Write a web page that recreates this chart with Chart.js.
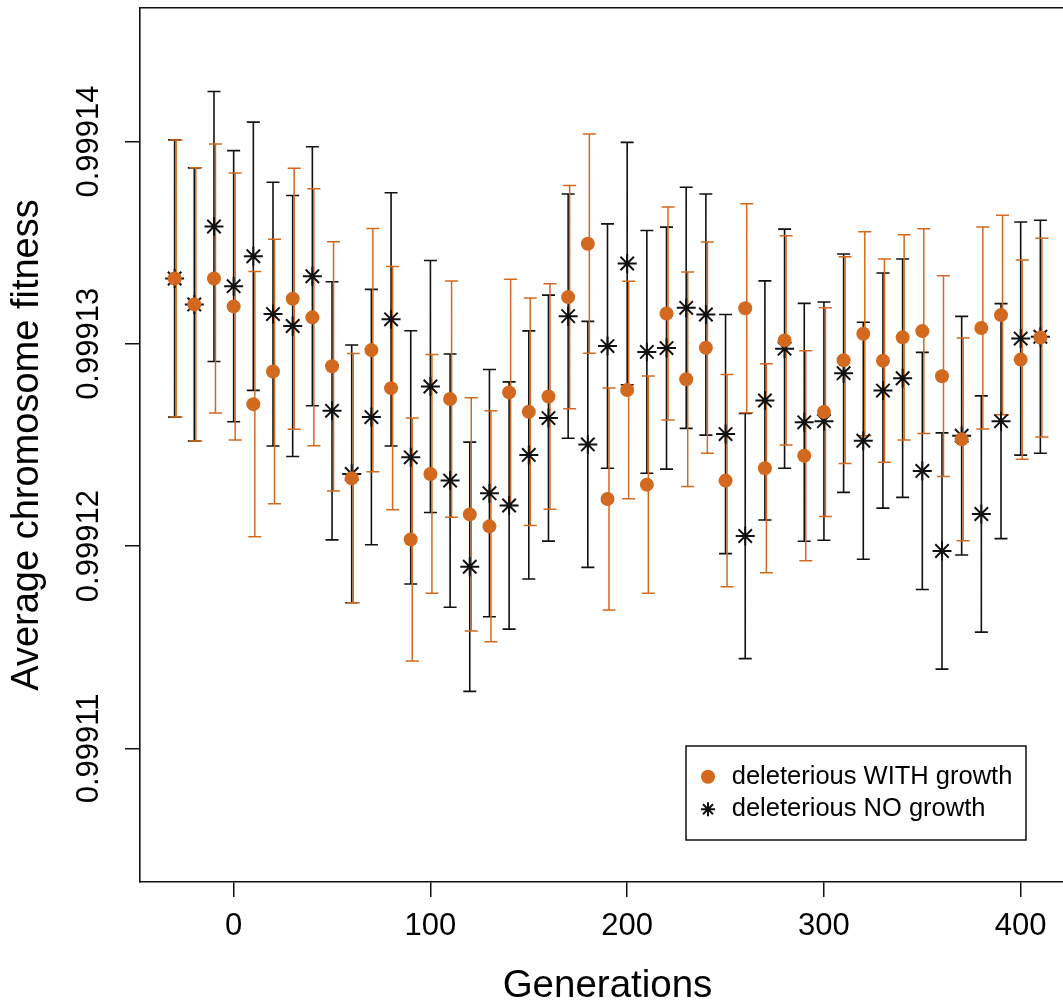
<!DOCTYPE html>
<html>
<head>
<meta charset="utf-8">
<title>Average chromosome fitness by generation</title>
<script src="https://cdn.jsdelivr.net/npm/chart.js@4.4.1/dist/chart.umd.min.js"></script>
<style>
  html, body { margin: 0; padding: 0; background: #fff; overflow: hidden; }
  #frame { width: 1063px; height: 1005px; overflow: hidden; }
  canvas { display: block; }
</style>
</head>
<body>
<div id="frame"><canvas id="chart" width="1075" height="1005"></canvas></div>
<script>
// Sampling generations
const generations = [-30, -20, -10, 0, 10, 20, 30, 40, 50, 60, 70, 80, 90, 100, 110, 120, 130, 140, 150, 160,
  170, 180, 190, 200, 210, 220, 230, 240, 250, 260, 270, 280, 290, 300, 310, 320, 330, 340, 350, 360,
  370, 380, 390, 400, 410];

// deleterious WITH growth: mean fitness and error half-width
const withGrowthMean = [0.99913323, 0.99913195, 0.99913323, 0.99913185, 0.99912702, 0.99912863, 0.99913223, 0.99913131, 0.99912889, 0.99912336,
  0.99912969, 0.99912781, 0.99912033, 0.99912357, 0.99912727, 0.99912157, 0.99912098, 0.99912760, 0.99912664, 0.99912740,
  0.99913231, 0.99913495, 0.99912233, 0.99912772, 0.99912304, 0.99913150, 0.99912825, 0.99912981, 0.99912324, 0.99913176,
  0.99912385, 0.99913017, 0.99912447, 0.99912663, 0.99912919, 0.99913050, 0.99912917, 0.99913032, 0.99913063, 0.99912840,
  0.99912528, 0.99913078, 0.99913142, 0.99912922, 0.99913031];
const withGrowthErr = [0.685e-5, 0.675e-5, 0.665e-5, 0.660e-5, 0.655e-5, 0.654e-5, 0.645e-5, 0.635e-5, 0.616e-5, 0.616e-5,
  0.601e-5, 0.601e-5, 0.601e-5, 0.590e-5, 0.584e-5, 0.576e-5, 0.571e-5, 0.559e-5, 0.562e-5, 0.557e-5,
  0.552e-5, 0.542e-5, 0.549e-5, 0.538e-5, 0.537e-5, 0.527e-5, 0.530e-5, 0.522e-5, 0.525e-5, 0.517e-5,
  0.517e-5, 0.517e-5, 0.519e-5, 0.516e-5, 0.511e-5, 0.504e-5, 0.502e-5, 0.507e-5, 0.506e-5, 0.496e-5,
  0.501e-5, 0.499e-5, 0.493e-5, 0.493e-5, 0.491e-5];

// deleterious NO growth: mean fitness and error half-width
const noGrowthMean = [0.99913323, 0.99913195, 0.99913580, 0.99913285, 0.99913433, 0.99913147, 0.99913088, 0.99913334, 0.99912669, 0.99912357,
  0.99912638, 0.99913121, 0.99912439, 0.99912789, 0.99912324, 0.99911898, 0.99912262, 0.99912201, 0.99912451, 0.99912633,
  0.99913137, 0.99912503, 0.99912989, 0.99913397, 0.99912960, 0.99912979, 0.99913178, 0.99913145, 0.99912554, 0.99912050,
  0.99912720, 0.99912976, 0.99912612, 0.99912618, 0.99912855, 0.99912521, 0.99912769, 0.99912830, 0.99912372, 0.99911976,
  0.99912546, 0.99912159, 0.99912618, 0.99913026, 0.99913035];
const noGrowthErr = [0.685e-5, 0.675e-5, 0.667e-5, 0.670e-5, 0.663e-5, 0.652e-5, 0.645e-5, 0.640e-5, 0.638e-5, 0.637e-5,
  0.631e-5, 0.626e-5, 0.626e-5, 0.623e-5, 0.626e-5, 0.616e-5, 0.611e-5, 0.611e-5, 0.613e-5, 0.608e-5,
  0.604e-5, 0.608e-5, 0.604e-5, 0.599e-5, 0.600e-5, 0.598e-5, 0.596e-5, 0.596e-5, 0.591e-5, 0.606e-5,
  0.591e-5, 0.591e-5, 0.588e-5, 0.589e-5, 0.589e-5, 0.586e-5, 0.581e-5, 0.589e-5, 0.586e-5, 0.584e-5,
  0.590e-5, 0.584e-5, 0.581e-5, 0.576e-5, 0.576e-5];

// Axis ticks and labels
const xTicks = [0, 100, 200, 300, 400];
const yTicks = [0.99911, 0.99912, 0.99913, 0.99914];
const seriesLabels = ['deleterious WITH growth', 'deleterious NO growth'];
const xTitle = 'Generations';
const yTitle = 'Average chromosome fitness';

const ORANGE = '#D2691E';
const INK = '#111111';
const FONT = "'Liberation Sans', Arial, Helvetica, sans-serif";
const CAP = 6.5;

// Vertical error bars with end caps, drawn underneath the markers
const errorBars = {
  id: 'errorBars',
  beforeDatasetsDraw(chart) {
    const { ctx, chartArea, scales: { x, y } } = chart;
    const series = [
      { mean: noGrowthMean, err: noGrowthErr, color: INK, shift: 0, width: 1.6 },
      { mean: withGrowthMean, err: withGrowthErr, color: ORANGE, shift: 1.5, width: 1.5 }
    ];
    ctx.save();
    ctx.beginPath();
    ctx.rect(chartArea.left, chartArea.top, chartArea.right - chartArea.left, chartArea.bottom - chartArea.top);
    ctx.clip();
    for (const s of series) {
      ctx.strokeStyle = s.color;
      ctx.lineWidth = s.width;
      ctx.beginPath();
      generations.forEach((g, i) => {
        const px = x.getPixelForValue(g) + s.shift;
        const top = y.getPixelForValue(s.mean[i] + s.err[i]);
        const bot = y.getPixelForValue(s.mean[i] - s.err[i]);
        ctx.moveTo(px, top); ctx.lineTo(px, bot);
        ctx.moveTo(px - CAP, top); ctx.lineTo(px + CAP, top);
        ctx.moveTo(px - CAP, bot); ctx.lineTo(px + CAP, bot);
      });
      ctx.stroke();
    }
    ctx.restore();
  }
};

// Places the legend in the lower right of the plot and frames it
const legendFrame = {
  id: 'legendFrame',
  afterLayout(chart) {
    const lg = chart.legend;
    if (!lg) return;
    const w = lg.width, h = lg.height;
    lg.left = 690; lg.top = 757;
    lg.right = lg.left + w; lg.bottom = lg.top + h;
  },
  afterDraw(chart) {
    const ctx = chart.ctx;
    ctx.save();
    ctx.strokeStyle = INK;
    ctx.lineWidth = 1.5;
    ctx.strokeRect(686, 746, 340, 94);
    ctx.restore();
  }
};

new Chart(document.getElementById('chart'), {
  type: 'scatter',
  data: {
    datasets: [
      {
        label: seriesLabels[0],
        data: generations.map((g, i) => ({ x: g, y: withGrowthMean[i] })),
        pointStyle: 'circle',
        pointRadius: 7,
        pointHoverRadius: 7,
        backgroundColor: ORANGE,
        borderColor: ORANGE,
        borderWidth: 0
      },
      {
        label: seriesLabels[1],
        data: generations.map((g, i) => ({ x: g, y: noGrowthMean[i] })),
        pointStyle: 'star',
        pointRadius: 9.5,
        pointHoverRadius: 9.5,
        backgroundColor: INK,
        borderColor: INK,
        borderWidth: 2
      }
    ]
  },
  options: {
    responsive: false,
    animation: false,
    devicePixelRatio: 1,
    layout: { autoPadding: false, padding: { top: 8, left: 0, right: 0, bottom: 0 } },
    plugins: {
      tooltip: { enabled: false },
      legend: {
        position: 'chartArea',
        align: 'start',
        labels: {
          usePointStyle: true,
          boxWidth: 22,
          boxHeight: 10,
          padding: 7,
          color: '#000',
          font: { family: FONT, size: 25.5 }
        }
      }
    },
    scales: {
      x: {
        type: 'linear',
        position: 'bottom',
        min: -47.6,
        max: 427.6,
        afterBuildTicks: (scale) => { scale.ticks = xTicks.map(v => ({ value: v })); },
        afterFit: (scale) => { scale.height = 123; scale.paddingLeft = 0; scale.paddingRight = 0; },
        ticks: {
          autoSkip: false,
          maxRotation: 0,
          padding: 11,
          color: '#000',
          font: { family: FONT, size: 31 },
          callback: (v) => String(v)
        },
        grid: { display: true, drawOnChartArea: false, drawTicks: true, tickLength: 15, color: INK, lineWidth: 1.5 },
        border: { display: true, color: INK, width: 1.6 },
        title: {
          display: true,
          text: xTitle,
          color: '#000',
          font: { family: FONT, size: 38.5, lineHeight: '38px' },
          padding: { top: 0, bottom: 0 }
        }
      },
      xTop: {
        type: 'linear',
        position: 'top',
        min: -47.6,
        max: 427.6,
        display: true,
        afterFit: (scale) => { scale.height = 0; scale.paddingLeft = 0; scale.paddingRight = 0; },
        ticks: { display: false },
        grid: { display: false, drawTicks: false },
        border: { display: true, color: INK, width: 1.6 }
      },
      y: {
        type: 'linear',
        position: 'left',
        min: 0.9991034,
        max: 0.9991466,
        afterBuildTicks: (scale) => { scale.ticks = yTicks.map(v => ({ value: v })); },
        afterFit: (scale) => { scale.width = 140; scale.paddingTop = 0; scale.paddingBottom = 0; },
        ticks: {
          autoSkip: false,
          minRotation: 90,
          maxRotation: 90,
          crossAlign: 'center',
          padding: -20,
          color: '#000',
          font: { family: FONT, size: 31 },
          callback: (v) => Number(v).toFixed(5)
        },
        grid: { display: true, drawOnChartArea: false, drawTicks: true, tickLength: 15, color: INK, lineWidth: 1.5 },
        border: { display: true, color: INK, width: 1.6 },
        title: {
          display: true,
          text: yTitle,
          color: '#000',
          font: { family: FONT, size: 38 },
          padding: { top: 5, bottom: 0 }
        }
      }
    }
  },
  plugins: [errorBars, legendFrame]
});
</script>
</body>
</html>
